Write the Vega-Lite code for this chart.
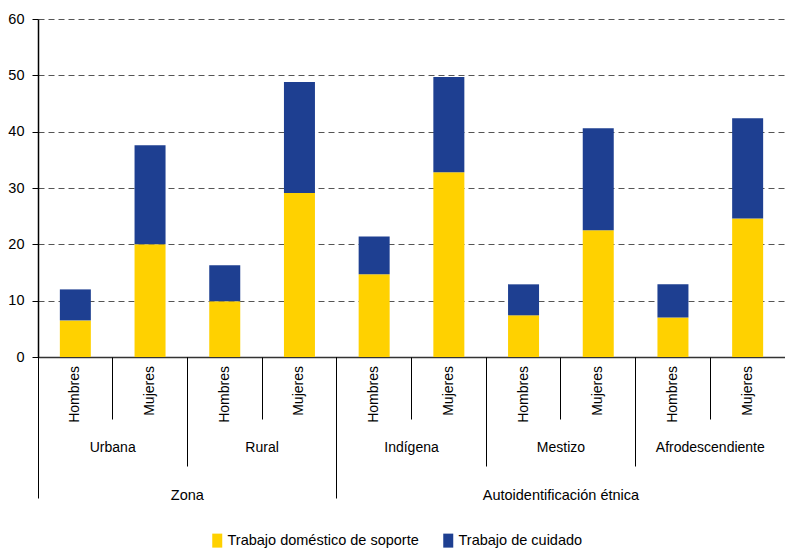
{
  "$schema": "https://vega.github.io/schema/vega-lite/v6.json",
  "width": 747,
  "height": 338,
  "autosize": "none",
  "padding": {"left": 38, "top": 19, "right": 0, "bottom": 191},
  "config": {
    "font": "Liberation Sans, Arial, sans-serif",
    "view": {"stroke": null},
    "axis": {"labelColor": "#000", "tickColor": "#000", "title": null}
  },
  "data": {
    "values": [
      {"barra": "Urbana|Hombres", "tipo": "Trabajo doméstico de soporte", "valor": 6.5},
      {"barra": "Urbana|Hombres", "tipo": "Trabajo de cuidado", "valor": 5.5},
      {"barra": "Urbana|Mujeres", "tipo": "Trabajo doméstico de soporte", "valor": 20.0},
      {"barra": "Urbana|Mujeres", "tipo": "Trabajo de cuidado", "valor": 17.6},
      {"barra": "Rural|Hombres", "tipo": "Trabajo doméstico de soporte", "valor": 9.9},
      {"barra": "Rural|Hombres", "tipo": "Trabajo de cuidado", "valor": 6.4},
      {"barra": "Rural|Mujeres", "tipo": "Trabajo doméstico de soporte", "valor": 29.1},
      {"barra": "Rural|Mujeres", "tipo": "Trabajo de cuidado", "valor": 19.7},
      {"barra": "Indígena|Hombres", "tipo": "Trabajo doméstico de soporte", "valor": 14.7},
      {"barra": "Indígena|Hombres", "tipo": "Trabajo de cuidado", "valor": 6.7},
      {"barra": "Indígena|Mujeres", "tipo": "Trabajo doméstico de soporte", "valor": 32.8},
      {"barra": "Indígena|Mujeres", "tipo": "Trabajo de cuidado", "valor": 16.9},
      {"barra": "Mestizo|Hombres", "tipo": "Trabajo doméstico de soporte", "valor": 7.4},
      {"barra": "Mestizo|Hombres", "tipo": "Trabajo de cuidado", "valor": 5.5},
      {"barra": "Mestizo|Mujeres", "tipo": "Trabajo doméstico de soporte", "valor": 22.5},
      {"barra": "Mestizo|Mujeres", "tipo": "Trabajo de cuidado", "valor": 18.1},
      {"barra": "Afrodescendiente|Hombres", "tipo": "Trabajo doméstico de soporte", "valor": 7.0},
      {"barra": "Afrodescendiente|Hombres", "tipo": "Trabajo de cuidado", "valor": 5.9},
      {"barra": "Afrodescendiente|Mujeres", "tipo": "Trabajo doméstico de soporte", "valor": 24.6},
      {"barra": "Afrodescendiente|Mujeres", "tipo": "Trabajo de cuidado", "valor": 17.8}
    ]
  },
  "layer": [
    {
      "mark": {"type": "bar", "width": {"band": 0.415}},
      "encoding": {
        "x": {
          "field": "barra", "type": "nominal", "sort": null,
          "scale": {"paddingInner": 0, "paddingOuter": 0},
          "axis": {
            "orient": "bottom", "labelExpr": "split(datum.label, '|')[1]",
            "labelAngle": -90, "ticks": false, "labelPadding": 8.5, "labelFontSize": 14,
            "domainColor": "#333", "domainWidth": 1.5, "grid": false, "labelOverlap": false
          }
        },
        "y": {
          "field": "valor", "type": "quantitative",
          "scale": {"domain": [0, 60], "nice": false},
          "axis": {
            "values": [0, 10, 20, 30, 40, 50, 60], "grid": true, "gridDash": [6, 4],
            "gridColor": "#555", "gridWidth": 1, "tickSize": 6, "labelPadding": 8,
            "labelFontSize": 14.5, "domainColor": "#000", "domainWidth": 1.5
          }
        },
        "color": {
          "field": "tipo", "type": "nominal",
          "scale": {"domain": ["Trabajo doméstico de soporte", "Trabajo de cuidado"], "range": ["#FFD100", "#1E3F91"]},
          "legend": {
            "orient": "none", "legendX": 172, "legendY": 514, "direction": "horizontal",
            "title": null, "symbolType": "M-0.714,-1L0.714,-1L0.714,1L-0.714,1Z",
            "symbolSize": 196, "symbolStrokeWidth": 0, "labelFontSize": 14.5, "labelOffset": 3,
            "columnPadding": 22, "labelLimit": 400, "labelColor": "#000",
            "encode": {"symbols": {"update": {"fill": {"signal": "datum.value === 'Trabajo de cuidado' ? '#2D2D6E' : '#FFD100'"}}}}
          }
        }
      }
    },
    {
      "mark": {"type": "point", "opacity": 0},
      "encoding": {
        "x": {
          "field": "barra", "type": "nominal", "sort": null,
          "axis": {
            "orient": "bottom", "bandPosition": 0, "tickSize": 62, "tickWidth": 1,
            "labelExpr": "indexof(datum.label, 'Mujeres') >= 0 ? split(datum.label, '|')[0] : ''",
            "labelAngle": 0, "labelPadding": 21.5, "labelOffset": -37.35, "labelFontSize": 14, "labelOverlap": false,
            "domain": false, "grid": false
          }
        }
      }
    },
    {
      "mark": {"type": "point", "opacity": 0},
      "encoding": {
        "x": {
          "field": "barra", "type": "nominal", "sort": null,
          "axis": {
            "orient": "bottom", "bandPosition": 0, "tickSize": 109, "tickWidth": 1,
            "values": ["Rural|Hombres", "Indígena|Hombres", "Mestizo|Hombres", "Afrodescendiente|Hombres"],
            "labels": false, "domain": false, "grid": false
          }
        }
      }
    },
    {
      "mark": {"type": "point", "opacity": 0},
      "encoding": {
        "x": {
          "field": "barra", "type": "nominal", "sort": null,
          "axis": {
            "orient": "bottom", "bandPosition": 0, "tickSize": 141, "tickWidth": 1,
            "values": ["Urbana|Hombres", "Indígena|Hombres"],
            "labels": false, "domain": false, "grid": false
          }
        }
      }
    },
    {
      "mark": {"type": "point", "opacity": 0},
      "encoding": {
        "x": {
          "field": "barra", "type": "nominal", "sort": null,
          "axis": {
            "orient": "bottom", "bandPosition": 0, "ticks": false,
            "values": ["Rural|Hombres", "Mestizo|Mujeres"],
            "labelExpr": "datum.label === 'Rural|Hombres' ? 'Zona' : 'Autoidentificación étnica'",
            "labelAngle": 0, "labelPadding": 131, "labelOffset": -37.35, "labelFontSize": 14.5, "labelOverlap": false,
            "domain": false, "grid": false
          }
        }
      }
    }
  ],
  "resolve": {"axis": {"x": "independent"}}
}
